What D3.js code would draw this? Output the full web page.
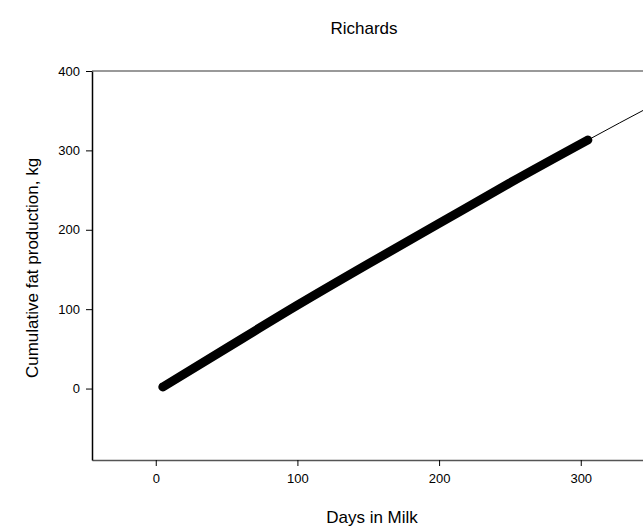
<!DOCTYPE html>
<html>
<head>
<meta charset="utf-8">
<script src="https://cdnjs.cloudflare.com/ajax/libs/d3/7.8.5/d3.min.js"></script>
<style>
  body { margin: 0; background: #fff; }
  svg text { font-family: "Liberation Sans", Arial, sans-serif; fill: #000; }
</style>
</head>
<body>
<svg id="chart"></svg>
<script>
// observed cumulative fat (thick band of daily points)
var obsDays = [5, 50, 100, 150, 200, 250, 305];
var obsFat = [2, 51, 105, 157, 208, 259, 313];
// fitted Richards curve (thin line)
var fitDays = [5, 50, 100, 150, 200, 250, 305, 350, 400];
var fitFat = [2, 51, 105, 157, 208, 259, 313, 356, 401];

var xTicks = [0, 100, 200, 300];
var yTicks = [0, 100, 200, 300, 400];

var width = 643, height = 531;
var margin = {left: 92, top: 71, right: -10, bottom: 71};
var svg = d3.select("#chart").attr("width", width).attr("height", height);

var x = d3.scaleLinear().domain([-45, 351]).range([margin.left, width - margin.right]);
var y = d3.scaleLinear().domain([-90, 400]).range([height - margin.bottom, margin.top]);

svg.append("defs").append("clipPath").attr("id", "clip")
    .append("rect")
    .attr("x", x.range()[0]).attr("y", y.range()[1])
    .attr("width", x.range()[1] - x.range()[0])
    .attr("height", y.range()[0] - y.range()[1]);

var plot = svg.append("g").attr("clip-path", "url(#clip)");

var line = d3.line()
    .x(function (d) { return x(d[0]); })
    .y(function (d) { return y(d[1]); })
    .curve(d3.curveMonotoneX);

plot.append("path")
    .datum(fitDays.map(function (d, i) { return [d, fitFat[i]]; }))
    .attr("d", line)
    .attr("fill", "none")
    .attr("stroke", "#000")
    .attr("stroke-width", 1);

plot.append("path")
    .datum(obsDays.map(function (d, i) { return [d, obsFat[i]]; }))
    .attr("d", line)
    .attr("fill", "none")
    .attr("stroke", "#000")
    .attr("stroke-width", 9)
    .attr("stroke-linecap", "round");

// top frame line
svg.append("line")
    .attr("x1", x.range()[0]).attr("x2", width)
    .attr("y1", y(400)).attr("y2", y(400))
    .attr("stroke", "#777").attr("stroke-width", 1.5);

// axes
var xAxis = svg.append("g")
    .attr("transform", "translate(0," + y.range()[0] + ")")
    .call(d3.axisBottom(x).tickValues(xTicks).tickSize(6).tickPadding(8).tickSizeOuter(0));
var yAxis = svg.append("g")
    .attr("transform", "translate(" + x.range()[0] + ",0)")
    .call(d3.axisLeft(y).tickValues(yTicks).tickSize(6).tickPadding(6).tickSizeOuter(0));

xAxis.select(".domain").attr("stroke", "#555").attr("stroke-width", 1.5);
yAxis.select(".domain").attr("stroke", "#000").attr("stroke-width", 1.5);
svg.selectAll(".tick line").attr("stroke", "#000");
svg.selectAll(".tick text").style("font-size", "13px").attr("fill", "#000");

svg.append("text")
    .attr("x", 364).attr("y", 34)
    .attr("text-anchor", "middle")
    .style("font-size", "17px")
    .text("Richards");

svg.append("text")
    .attr("x", 372).attr("y", 523)
    .attr("text-anchor", "middle")
    .style("font-size", "17px")
    .text("Days in Milk");

svg.append("text")
    .attr("transform", "translate(38," + 268 + ") rotate(-90)")
    .attr("text-anchor", "middle")
    .style("font-size", "17px")
    .text("Cumulative fat production, kg");
</script>
</body>
</html>
